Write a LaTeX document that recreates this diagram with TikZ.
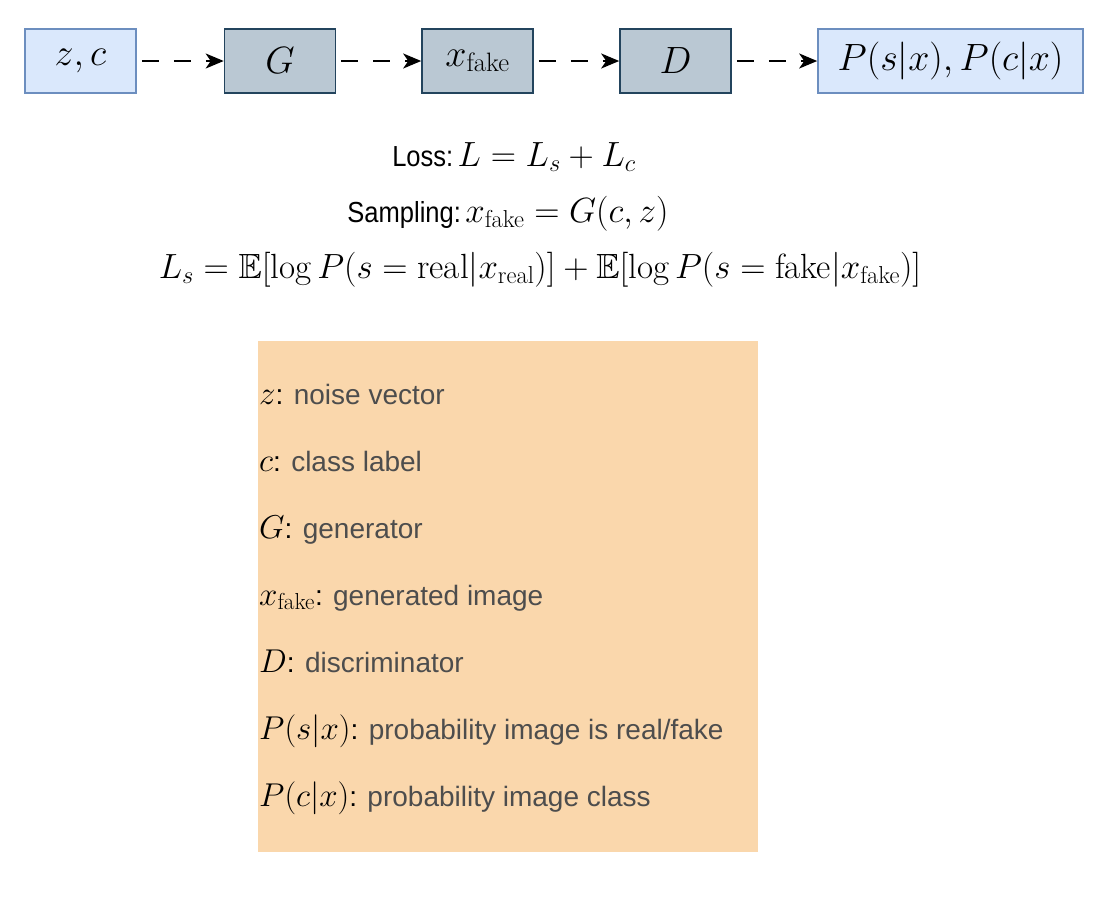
\RequirePackage{fix-cm}
\documentclass[tikz,border=0pt]{standalone}
\usepackage{amsmath,amssymb}
\usepackage{fontspec}
\setsansfont{Liberation Sans}
\newfontfamily\narrowsans[FakeStretch=0.88]{Liberation Sans}
\usetikzlibrary{arrows.meta}
\definecolor{inFill}{HTML}{DAE8FC}
\definecolor{inLine}{HTML}{6C8EBF}
\definecolor{netFill}{HTML}{BAC8D3}
\definecolor{netLine}{HTML}{23445D}
\definecolor{legFill}{HTML}{FAD7AC}
\definecolor{legText}{HTML}{4D4D4D}
\newcommand{\boxmath}[1]{{\fontsize{38}{45}\selectfont$#1$}}
\newcommand{\formmath}[1]{{\fontsize{35}{42}\selectfont$#1$}}
\newcommand{\formtext}[1]{{\fontsize{29}{35}\selectfont\narrowsans #1}}
\newcommand{\legmath}[1]{{\color{black}\fontsize{33}{40}\selectfont$#1$}}
\newcommand{\legtext}[1]{{\fontsize{28}{34}\selectfont\sffamily #1}}
\tikzset{
  inbox/.style={draw=inLine, fill=inFill, line width=1.6pt, minimum height=64pt, inner sep=0pt},
  netbox/.style={draw=netLine, fill=netFill, line width=1.6pt, minimum width=111pt, minimum height=64pt, inner sep=0pt},
  flow/.style={line width=2pt, dash pattern=on 17pt off 15pt, shorten <=5pt,
    -{Stealth[length=18pt, width=15pt, inset=5pt]}},
  legline/.style={anchor=base west, inner sep=0pt, text=legText},
  formula/.style={anchor=base, inner sep=0pt}
}
\begin{document}
\begin{tikzpicture}[x=1pt,y=-1pt]
\fill[white] (0,0) rectangle (1100,900);
\useasboundingbox (0,0) rectangle (1100,900);
% pipeline
\node[inbox, minimum width=111pt] (zc) at (80.5,61) {\boxmath{z, c}};
\node[netbox] (G) at (280,61) {\boxmath{G}};
\node[netbox] (xf) at (477.5,61) {\boxmath{x_{\text{fake}}}};
\node[netbox] (D) at (675.5,61) {\boxmath{D}};
\node[inbox, minimum width=265pt] (P) at (950.5,61) {\boxmath{P(s|x), P(c|x)}};
\draw[flow] (zc) -- (G);
\draw[flow] (G) -- (xf);
\draw[flow] (xf) -- (D);
\draw[flow] (D) -- (P);
% formulas
\node[formula] (loss) at (514,166) {\formtext{Loss:} \formmath{L = L_s + L_c}};
\node[formula] (samp) at (508,222) {\formtext{Sampling:} \formmath{x_{\text{fake}} = G(c, z)}};
\node[formula] (ls) at (540,278) {\formmath{L_s = \mathbb{E}[\log P(s = \text{real}|x_{\text{real}})] + \mathbb{E}[\log P(s = \text{fake}|x_{\text{fake}})]}};
% legend
\node[fill=legFill, minimum width=500pt, minimum height=511pt, inner sep=0pt] (leg) at (508,596.5) {};
\node[legline] (l1) at (259,404) {\legmath{z}\legtext{\textcolor{black}{:} noise vector}};
\node[legline] (l2) at (259,471) {\legmath{c}\legtext{\textcolor{black}{:} class label}};
\node[legline] (l3) at (259,538) {\legmath{G}\legtext{\textcolor{black}{:} generator}};
\node[legline] (l4) at (259,605) {\legmath{x_{\text{fake}}}\legtext{\textcolor{black}{:} generated image}};
\node[legline] (l5) at (259,672) {\legmath{D}\legtext{\textcolor{black}{:} discriminator}};
\node[legline] (l6) at (259,739) {\legmath{P(s|x)}\legtext{\textcolor{black}{:} probability image is real/fake}};
\node[legline] (l7) at (259,806) {\legmath{P(c|x)}\legtext{\textcolor{black}{:} probability image class}};
\end{tikzpicture}
\end{document}
